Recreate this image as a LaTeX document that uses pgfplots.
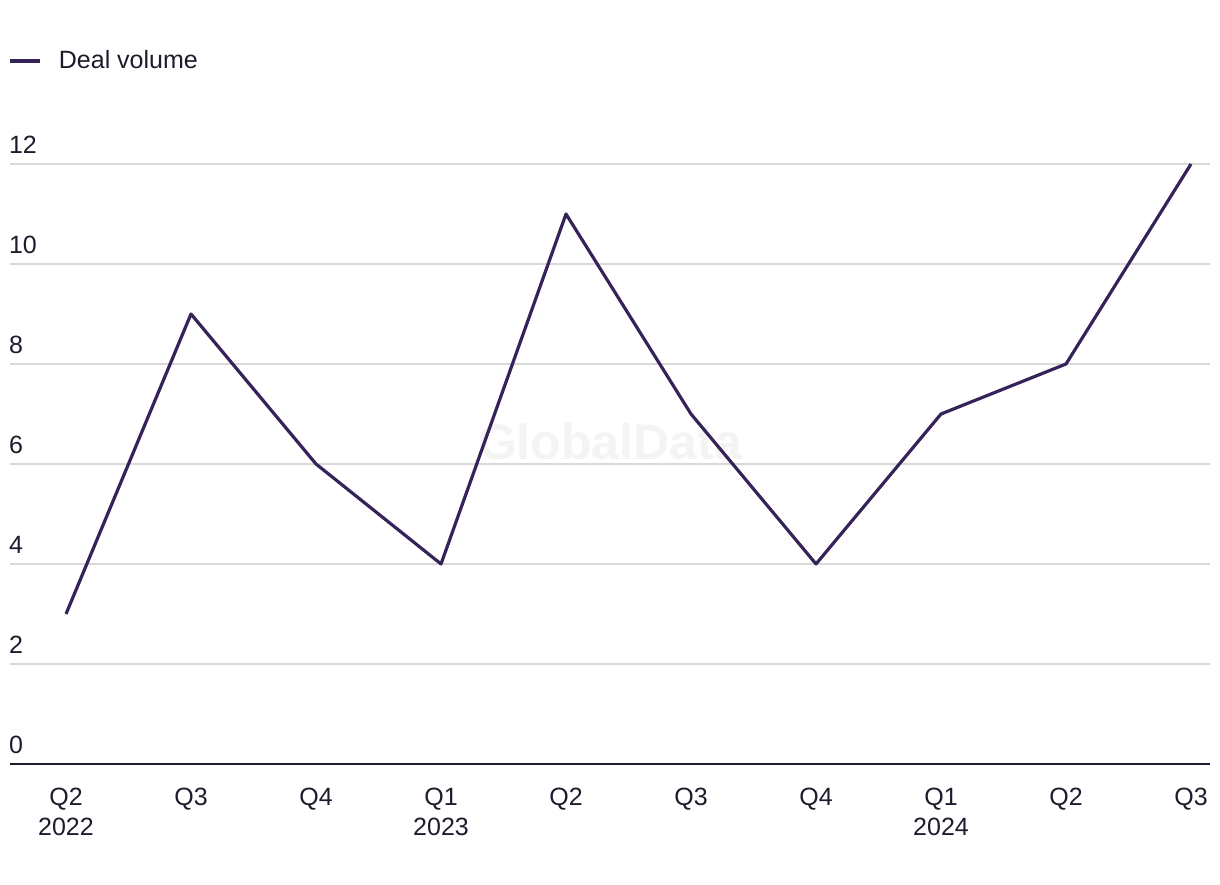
\documentclass[border=0pt]{standalone}
\usepackage{pgfplots}
\pgfplotsset{compat=1.18}
\usepackage{fontspec}
\setmainfont{Liberation Sans}
\definecolor{linecol}{HTML}{35235A}
\definecolor{txtcol}{HTML}{1C1C2C}
\definecolor{gridcol}{HTML}{D9D9D9}
\definecolor{wmcol}{HTML}{F4F4F4}
\begin{document}
\begin{tikzpicture}
\useasboundingbox (0,0) rectangle (610pt,442pt);
\node[font=\bfseries\fontsize{25}{30}\selectfont, text=wmcol] at (305pt,221pt) {GlobalData};
\begin{axis}[
  at={(5pt,60pt)}, anchor=south west,
  scale only axis, width=600pt, height=300pt,
  xmin=-0.448, xmax=9.152, ymin=0, ymax=12,
  axis x line=bottom, axis y line=left,
  x axis line style={draw=txtcol, line width=1.2pt, -},
  y axis line style={draw=none},
  major tick length=0pt,
  xtick={0,...,9},
  xticklabels={Q2\\2022, Q3, Q4, Q1\\2023, Q2, Q3, Q4, Q1\\2024, Q2, Q3},
  xticklabel style={align=center, yshift=-8.5pt, font=\fontsize{12.5}{15}\selectfont, text=txtcol},
  ytick={0,2,...,12},
  yticklabel style={anchor=south west, xshift=-4pt, yshift=1.5pt, font=\fontsize{12.5}{15}\selectfont, text=txtcol},
  /pgf/number format/assume math mode=true,
  ymajorgrids, grid style={draw=gridcol, line width=0.75pt},
  legend style={draw=none, fill=none, at={(0,1)}, anchor=west, xshift=-1pt, yshift=51.5pt,
    font=\fontsize{12.5}{15}\selectfont, text=txtcol, inner sep=0pt},
  legend cell align=left,
  legend image code/.code={\draw[#1, line width=2pt] (0pt,0pt) -- (15pt,0pt);},
  legend style={nodes={inner sep=4.75pt}},
]
\addplot[color=linecol, line width=1.6pt, line join=round] coordinates {
(0,3) (1,9) (2,6) (3,4) (4,11) (5,7) (6,4) (7,7) (8,8) (9,12)};
\addlegendentry{\hspace{3.5pt}Deal volume}
\end{axis}
\end{tikzpicture}
\end{document}
